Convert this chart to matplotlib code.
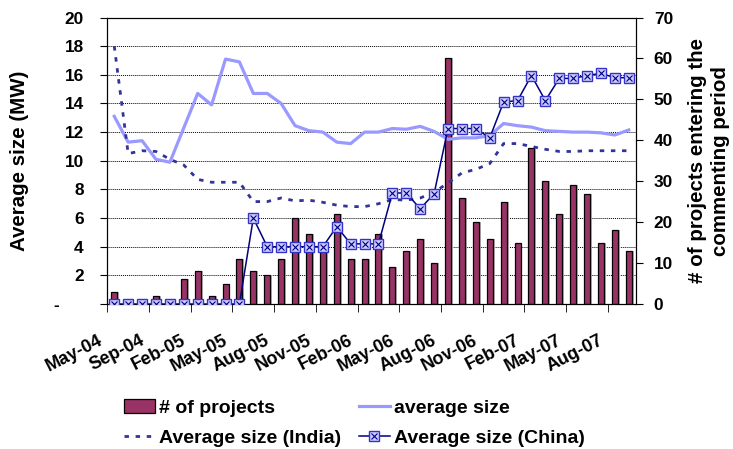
import numpy as np
import matplotlib
matplotlib.use('Agg')
import matplotlib.pyplot as plt
from matplotlib.ticker import MultipleLocator
from matplotlib.transforms import ScaledTranslation
from matplotlib.legend_handler import HandlerTuple

plt.rcParams['font.family'] = ['Liberation Sans', 'DejaVu Sans']
plt.rcParams['font.weight'] = 'bold'
plt.rcParams['axes.labelweight'] = 'bold'
plt.rcParams['font.size'] = 12.4

# Meses (categorias del eje x)
months = ['May-04', 'Jun-04', 'Jul-04', 'Sep-04', 'Oct-04', 'Nov-04', 'Feb-05', 'Mar-05',
          'Apr-05', 'May-05', 'Jun-05', 'Jul-05', 'Aug-05', 'Sep-05', 'Oct-05', 'Nov-05',
          'Dec-05', 'Jan-06', 'Feb-06', 'Mar-06', 'Apr-06', 'May-06', 'Jun-06', 'Jul-06',
          'Aug-06', 'Sep-06', 'Oct-06', 'Nov-06', 'Dec-06', 'Jan-07', 'Feb-07', 'Mar-07',
          'Apr-07', 'May-07', 'Jun-07', 'Jul-07', 'Aug-07', 'Sep-07']

# Numero de proyectos (eje derecho)
n_projects = [3, 0, 0, 2, 0, 6, 8, 2, 5, 11, 8, 7, 11, 21, 17, 14, 22, 11, 11, 17,
              9, 13, 16, 10, 60, 26, 20, 16, 25, 15, 38, 30, 22, 29, 27, 15, 18, 13]

# Tamano medio (MW, eje izquierdo)
avg_size = [13.1, 11.3, 11.4, 10.1, 9.9, 12.3, 14.7, 13.9, 17.1, 16.9, 14.7, 14.7, 14.0,
            12.45, 12.1, 12.0, 11.3, 11.2, 12.0, 12.0, 12.25, 12.2, 12.4, 12.05, 11.5,
            11.6, 11.6, 11.75, 12.6, 12.45, 12.35, 12.1, 12.05, 12.0, 12.0, 11.95, 11.8, 12.15]

india = [18.0, 10.5, 10.7, 10.65, 10.1, 9.7, 8.7, 8.5, 8.5, 8.5, 7.15, 7.15, 7.4, 7.2,
         7.25, 7.1, 6.9, 6.8, 6.8, 7.0, 7.3, 7.25, 7.4, 7.8, 8.45, 9.15, 9.4, 9.8, 11.2,
         11.2, 11.0, 10.8, 10.65, 10.65, 10.7, 10.7, 10.7, 10.7]

china = [0, 0, 0, 0, 0, 0, 0, 0, 0, 0, 6.0, 4.0, 4.0, 4.0, 4.0, 4.0, 5.4, 4.2, 4.2, 4.2,
         7.75, 7.75, 6.65, 7.7, 12.25, 12.25, 12.25, 11.6, 14.1, 14.2, 15.95, 14.2, 15.75,
         15.75, 15.95, 16.1, 15.8, 15.8]

left_ticks = [0, 2, 4, 6, 8, 10, 12, 14, 16, 18, 20]
left_labels = ['-     ', '2', '4', '6', '8', '10', '12', '14', '16', '18', '20']
right_ticks = [0, 10, 20, 30, 40, 50, 60, 70]
right_labels = ['0', '10', '20', '30', '40', '50', '60', '70']

x = np.arange(len(months))

fig = plt.figure(figsize=(7.33, 4.49), dpi=100)
ax = fig.add_axes([0.1464, 0.3229, 0.7209, 0.6381])   # barras, escala derecha
ax2 = ax.twinx()                                        # lineas, escala izquierda

# Barras con sombra
ax.bar(x + 0.14, n_projects, width=0.43, color='#b4b4b4', zorder=1)
bars = ax.bar(x, n_projects, width=0.43, color='#993366', edgecolor='black',
              linewidth=0.9, zorder=2)

ax.set_xlim(-0.5, len(months) - 0.5)
ax.set_ylim(0, 70)
ax.yaxis.tick_right()
ax.yaxis.set_label_position('right')
ax.set_yticks(right_ticks, right_labels, fontweight='bold', fontsize=12.4)
ax.tick_params(axis='y', which='major', length=5, pad=8)
# rejilla alineada con los ticks del eje izquierdo (2 MW = 7 proyectos)
ax.yaxis.set_minor_locator(MultipleLocator(7))
ax.tick_params(axis='y', which='minor', length=0)
ax.grid(axis='y', which='minor', linestyle=(0, (1, 1)), color='black', linewidth=0.7)
ax.set_axisbelow(True)

ax.set_xticks(x[::3], months[::3], rotation=27, ha='right', va='top',
              fontweight='bold', fontsize=13)
ax.set_xticks(np.arange(-0.5, len(months) - 1, 3), minor=True)
ax.tick_params(axis='x', which='major', length=0, pad=20)
ax.tick_params(axis='x', which='minor', length=6)
for lbl in ax.get_xticklabels():
    lbl.set_transform(lbl.get_transform() + ScaledTranslation(-0.09, 0, fig.dpi_scale_trans))

ax.set_ylabel('# of projects entering the\ncommenting period', fontsize=14.8, linespacing=1.25)
ax.yaxis.set_label_coords(1.099, 0.5)

# Lineas
avg_line, = ax2.plot(x, avg_size, color='#9999ff', lw=2.3, zorder=2)
india_line, = ax2.plot(x, india, color='#333399', lw=2.0, ls=(0, (1.6, 2.4)), zorder=3)
china_line, = ax2.plot(x, china, color='#000080', lw=1.1, marker='s', ms=6.5,
                       mfc='#ccccff', mec='#3333cc', mew=1.0, zorder=4)
china_x, = ax2.plot(x, china, ls='none', marker='x', ms=4.2, mec='#000080', mew=0.8, zorder=5)

ax2.set_ylim(0, 20)
ax2.yaxis.tick_left()
ax2.yaxis.set_label_position('left')
ax2.set_yticks(left_ticks, left_labels, fontweight='bold', fontsize=12.4)
ax2.tick_params(axis='y', length=5, pad=12)
ax2.set_ylabel('Average size (MW)', fontsize=14.8)
ax2.yaxis.set_label_coords(-0.149, 0.5)

fig.legend([bars, india_line, avg_line, (china_line, china_x)],
           ['# of projects', 'Average size (India)', 'average size', 'Average size (China)'],
           handler_map={tuple: HandlerTuple(ndivide=1, pad=0)},
           loc='upper left', bbox_to_anchor=(124 / 733, 1 - 399 / 449), ncol=2,
           frameon=False, prop={'size': 14, 'weight': 'bold'},
           handlelength=1.6, handletextpad=0.22, columnspacing=0.88,
           labelspacing=0.64, borderpad=0, borderaxespad=0)

fig.savefig('out.png', dpi=100)
